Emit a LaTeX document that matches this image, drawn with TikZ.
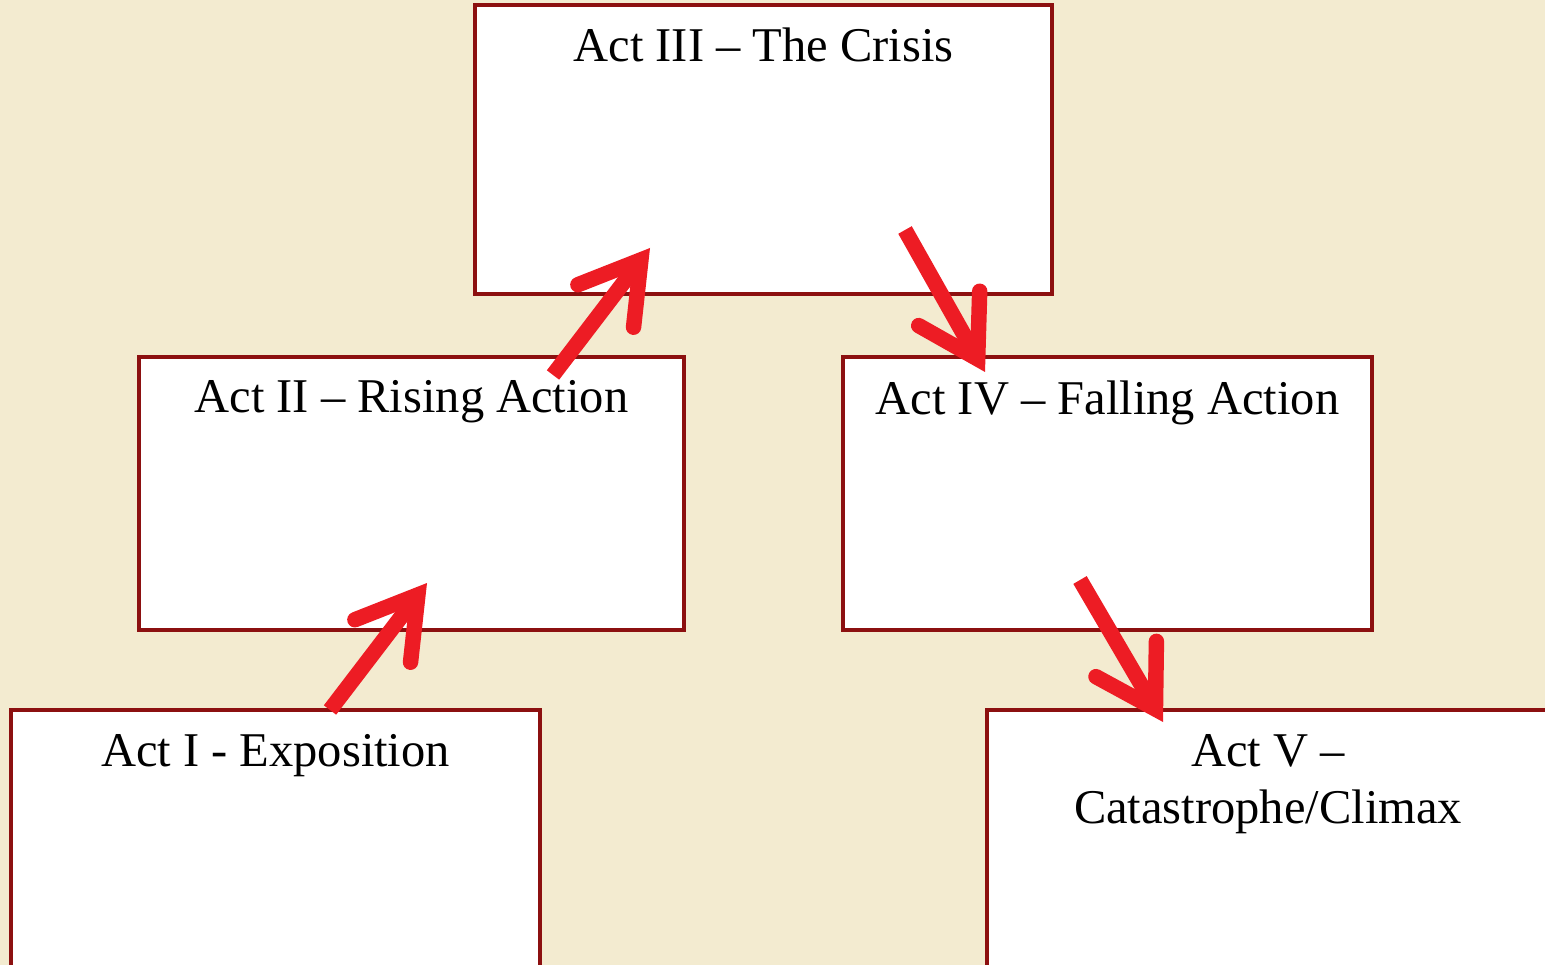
\documentclass[tikz,border=0pt]{standalone}
\usepackage{fontspec}
\setmainfont{Liberation Serif}
\usetikzlibrary{positioning,arrows.meta,calc}
\definecolor{parch}{RGB}{243,235,208}
\definecolor{boxclr}{RGB}{140,16,16}
\definecolor{arrclr}{RGB}{237,28,36}
\tikzset{
  actbox/.style={rectangle,draw=boxclr,line width=1.3pt,fill=white,inner sep=0pt},
  acttitle/.style={anchor=north,inner sep=0pt,align=center,
                   font=\fontsize{13.8}{16.2}\selectfont},
  flow/.style={draw=arrclr,line width=4.4pt,
               -{Straight Barb[length=5.8mm,width=7mm,line cap=round,line join=miter]}},
}

\begin{document}
\begin{tikzpicture}
% Page
\fill[parch] (0,0) rectangle (15.45,-9.65);
\useasboundingbox (0,0) rectangle (15.45,-9.65);
\clip (0,0) rectangle (15.45,-9.65);

% Acts
\node[actbox,minimum width=5.77cm,minimum height=2.89cm] (act3) at (7.635,-1.495) {};
\node[actbox,minimum width=5.45cm,minimum height=2.73cm] (act2) at (4.115,-4.935) {};
\node[actbox,minimum width=5.29cm,minimum height=2.73cm] (act4) at (11.075,-4.935) {};
\node[actbox,minimum width=5.29cm,minimum height=2.90cm] (act1) at (2.755,-8.55) {};
\node[actbox,minimum width=5.62cm,minimum height=2.90cm] (act5) at (12.68,-8.55) {};

% Titles
\node[acttitle] (act3t) at ([yshift=-0.24cm]act3.north) {Act III – The Crisis};
\node[acttitle] (act2t) at ([yshift=-0.25cm]act2.north) {Act II – Rising Action};
\node[acttitle] (act4t) at ([yshift=-0.25cm]act4.north) {Act IV – Falling Action};
\node[acttitle] (act1t) at ([yshift=-0.26cm]act1.north) {Act I - Exposition};
\node[acttitle] (act5t) at ([yshift=-0.26cm]act5.north) {Act V –\\Catastrophe/Climax};

% Arrow ends
\coordinate (up1a) at (3.30,-7.10);
\coordinate (up1b) at (4.27,-5.83);
\coordinate (up2a) at (5.53,-3.75);
\coordinate (up2b) at (6.50,-2.48);
\coordinate (dn1a) at (9.05,-2.30);
\coordinate (dn1b) at (9.85,-3.72);
\coordinate (dn2a) at (10.80,-5.80);
\coordinate (dn2b) at (11.63,-7.22);

% Arrows
\draw[flow] (up1a) -- (up1b);
\draw[flow] (up2a) -- (up2b);
\draw[flow] (dn1a) -- (dn1b);
\draw[flow] (dn2a) -- (dn2b);

\end{tikzpicture}
\end{document}
